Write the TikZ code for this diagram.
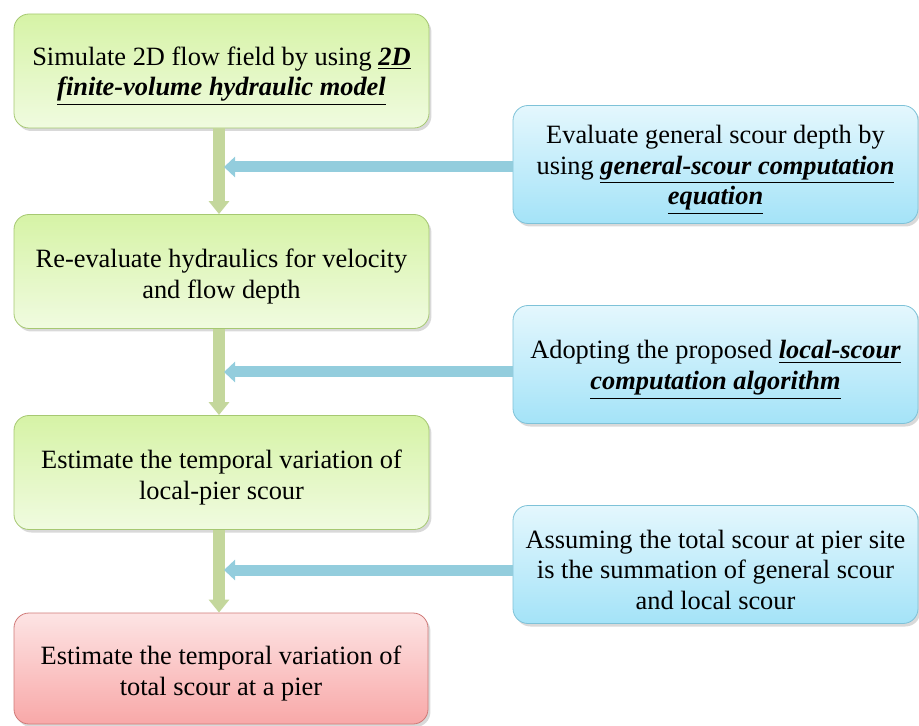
\documentclass[tikz,border=0pt]{standalone}
\usepackage{fontspec}
\setmainfont{Liberation Serif}
\usetikzlibrary{arrows.meta,shadows}

\definecolor{grntop}{HTML}{D6F3A6}
\definecolor{grnbot}{HTML}{F0FBE0}
\definecolor{grnline}{HTML}{A6C872}
\definecolor{blutop}{HTML}{E4F7FD}
\definecolor{blubot}{HTML}{A4E3F8}
\definecolor{bluline}{HTML}{7EC2D8}
\definecolor{redtop}{HTML}{FDE4E4}
\definecolor{redbot}{HTML}{F8A8A8}
\definecolor{redline}{HTML}{D07A78}
\definecolor{grnarrow}{HTML}{C4D79C}
\definecolor{bluarrow}{HTML}{93CDDD}

\newcommand{\keyword}[1]{\underline{\textbf{\textit{#1}}}}

\begin{document}
\begin{tikzpicture}[x=0.5pt,y=-0.5pt,
	box/.style={draw, rounded corners=7.5pt, align=flush center, inner sep=0pt,
		text width=200pt, font=\fontsize{13.2}{15.3}\selectfont,
		execute at begin node={\rule{0pt}{14.5pt}},
		drop shadow={opacity=0.3, shadow xshift=1.2pt, shadow yshift=-1.5pt}},
	greenbox/.style={box, draw=grnline, top color=grntop, bottom color=grnbot,
		minimum width=207.5pt, minimum height=57pt},
	redbox/.style={box, draw=redline, top color=redtop, bottom color=redbot,
		minimum width=207pt, minimum height=55.5pt},
	bluebox/.style={box, draw=bluline, top color=blutop, bottom color=blubot,
		minimum width=202.5pt, minimum height=59pt},
	downarrow/.style={draw=grnarrow, line width=6pt, -{Triangle[width=10pt,length=6.5pt]}},
	leftarrow/.style={draw=bluarrow, line width=5.5pt, -{Triangle[width=10pt,length=5.5pt]}}]
	\useasboundingbox (0,0) rectangle (919,726);
	
	% main steps
	\node[greenbox] (sim) at (221.5,71) {Simulate 2D flow field by using \keyword{2D}\\ \keyword{finite-volume hydraulic model}};
	\node[greenbox] (reeval) at (221.5,271.5) {Re-evaluate hydraulics for velocity\\ and flow depth};
	\node[greenbox] (local) at (221.5,472.5) {Estimate the temporal variation of\\ local-pier scour};
	\node[redbox] (total) at (221,668.5) {Estimate the temporal variation of\\ total scour at a pier};
	
	% side inputs
	\node[bluebox] (general) at (715.5,164.5) {Evaluate general scour depth by\\ using \keyword{general-scour computation}\\ \keyword{equation}};
	\node[bluebox] (algo) at (715.5,364.5) {Adopting the proposed \keyword{local-scour}\\ \keyword{computation algorithm}};
	\node[bluebox] (sum) at (715.5,564.5) {Assuming the total scour at pier site\\ is the summation of general scour\\ and local scour};
	
	\coordinate (in1) at (224,167);
	\coordinate (in2) at (224,372);
	\coordinate (in3) at (224,570);
	
	\draw[downarrow] (sim.south -| 219,0) -- (reeval.north -| 219,0);
	\draw[downarrow] (reeval.south -| 219,0) -- (local.north -| 219,0);
	\draw[downarrow] (local.south -| 219,0) -- (total.north -| 219,0);
	
	\draw[leftarrow] (general.west |- in1) -- (in1);
	\draw[leftarrow] (algo.west |- in2) -- (in2);
	\draw[leftarrow] (sum.west |- in3) -- (in3);
\end{tikzpicture}
\end{document}
